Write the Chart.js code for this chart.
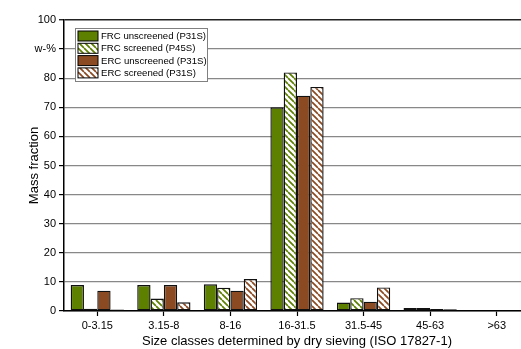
<!DOCTYPE html>
<html>
<head>
<meta charset="utf-8">
<script src="https://cdn.jsdelivr.net/npm/chart.js@4"></script>
<style>
  html, body { margin: 0; padding: 0; background: #fff; overflow: hidden; }
  #wrap { width: 521px; height: 349px; overflow: hidden; }
  #box { width: 531px; height: 349px; }
</style>
</head>
<body>
<div id="wrap"><div id="box"><canvas id="chart"></canvas></div></div>
<script>
var categories = ['0-3.15', '3.15-8', '8-16', '16-31.5', '31.5-45', '45-63', '>63'];
var frcUnscreened = [8.9, 8.9, 9.2, 70, 2.9, 1.0, 0.2];
var frcScreened = [0.8, 4.3, 8.0, 82, 4.4, 1.0, 0.2];
var ercUnscreened = [7.0, 8.9, 7.0, 74, 3.2, 0.7, 0.2];
var ercScreened = [0.5, 3.0, 11.0, 77, 8.1, 0.6, 0.2];
var yTicks = [0, 10, 20, 30, 40, 50, 60, 70, 80, 90, 100];

var green = '#5e8000';
var brown = '#8b4a22';

function hatch(color) {
  var s = 6;
  var c = document.createElement('canvas');
  c.width = s; c.height = s;
  var g = c.getContext('2d');
  g.fillStyle = '#fff';
  g.fillRect(0, 0, s, s);
  g.strokeStyle = color;
  g.lineWidth = 1.7;
  g.beginPath();
  for (var k = -1; k <= 1; k++) {
    g.moveTo(k * s, 0);
    g.lineTo(k * s + s, s);
  }
  g.stroke();
  return g.createPattern(c, 'repeat');
}

var greenHatch = hatch(green);
var brownHatch = hatch(brown);

// legend drawn inside the plot, top left
var boxLegend = {
  id: 'boxLegend',
  afterDraw: function(chart) {
    var ctx = chart.ctx;
    var x = 75, y = 28, w = 132, h = 53;
    ctx.save();
    ctx.fillStyle = '#c8c8c8';
    ctx.fillRect(x + 1, y + 1, w, h);
    ctx.fillStyle = '#fff';
    ctx.fillRect(x, y, w, h);
    ctx.strokeStyle = '#808080';
    ctx.lineWidth = 1;
    ctx.strokeRect(x + 0.5, y + 0.5, w, h);
    ctx.font = '9.6px "Liberation Sans", Arial, sans-serif';
    ctx.textBaseline = 'middle';
    chart.data.datasets.forEach(function(ds, i) {
      var ry = y + 3 + i * 12.3;
      ctx.fillStyle = ds.backgroundColor;
      ctx.fillRect(x + 3, ry, 20, 10);
      ctx.strokeStyle = '#000';
      ctx.lineWidth = 1;
      ctx.strokeRect(x + 3, ry, 20, 10);
      ctx.fillStyle = '#000';
      ctx.fillText(ds.label, x + 26, ry + 5.5);
    });
    ctx.restore();
  }
};

var ctx = document.getElementById('chart');

var chart = new Chart(ctx, {
  type: 'bar',
  data: {
    labels: categories,
    datasets: [{
      label: 'FRC unscreened (P31S)',
      backgroundColor: green,
      data: frcUnscreened
    }, {
      label: 'FRC screened (P45S)',
      backgroundColor: greenHatch,
      data: frcScreened
    }, {
      label: 'ERC unscreened (P31S)',
      backgroundColor: brown,
      data: ercUnscreened
    }, {
      label: 'ERC screened (P31S)',
      backgroundColor: brownHatch,
      data: ercScreened
    }]
  },
  options: {
    responsive: true,
    maintainAspectRatio: false,
    animation: false,
    layout: { padding: { top: 20, right: 1, left: 27, bottom: 0 } },
    datasets: {
      bar: {
        borderColor: '#111',
        borderWidth: 1.4,
        borderSkipped: false,
        categoryPercentage: 0.8,
        barPercentage: 1.0
      }
    },
    plugins: {
      legend: { display: false },
      tooltip: { enabled: false }
    },
    scales: {
      x: {
        grid: {
          offset: false,
          drawOnChartArea: false,
          tickLength: 5,
          tickColor: '#000',
          tickWidth: 1.2
        },
        border: { color: '#000', width: 1.5 },
        ticks: {
          color: '#000',
          padding: 3,
          maxRotation: 0,
          font: { family: '"Liberation Sans", Arial, sans-serif', size: 11 }
        },
        title: {
          display: true,
          text: 'Size classes determined by dry sieving (ISO 17827-1)',
          color: '#000',
          padding: { top: 0, bottom: 0 },
          font: { family: '"Liberation Sans", Arial, sans-serif', size: 13 }
        },
        afterFit: function(scale) { scale.height = 38; }
      },
      y: {
        min: 0,
        max: 100,
        afterBuildTicks: function(scale) {
          scale.ticks = yTicks.map(function(v) { return { value: v }; });
        },
        grid: {
          color: function(c) { return c.tick && c.tick.value === 100 ? '#222' : '#888'; },
          lineWidth: function(c) { return c.tick && c.tick.value === 100 ? 1.5 : 1.2; },
          tickLength: 5,
          tickColor: '#000',
          tickWidth: 1.2
        },
        border: { color: '#000', width: 1.5 },
        ticks: {
          color: '#000',
          padding: 3,
          font: { family: '"Liberation Sans", Arial, sans-serif', size: 11 },
          callback: function(v) { return v === 90 ? 'w-%' : v; }
        },
        title: {
          display: true,
          text: 'Mass fraction',
          color: '#000',
          padding: { top: 0, bottom: 2 },
          font: { family: '"Liberation Sans", Arial, sans-serif', size: 13 }
        },
        afterFit: function(scale) { scale.width = 37; }
      }
    }
  },
  plugins: [boxLegend]
});
</script>
</body>
</html>
